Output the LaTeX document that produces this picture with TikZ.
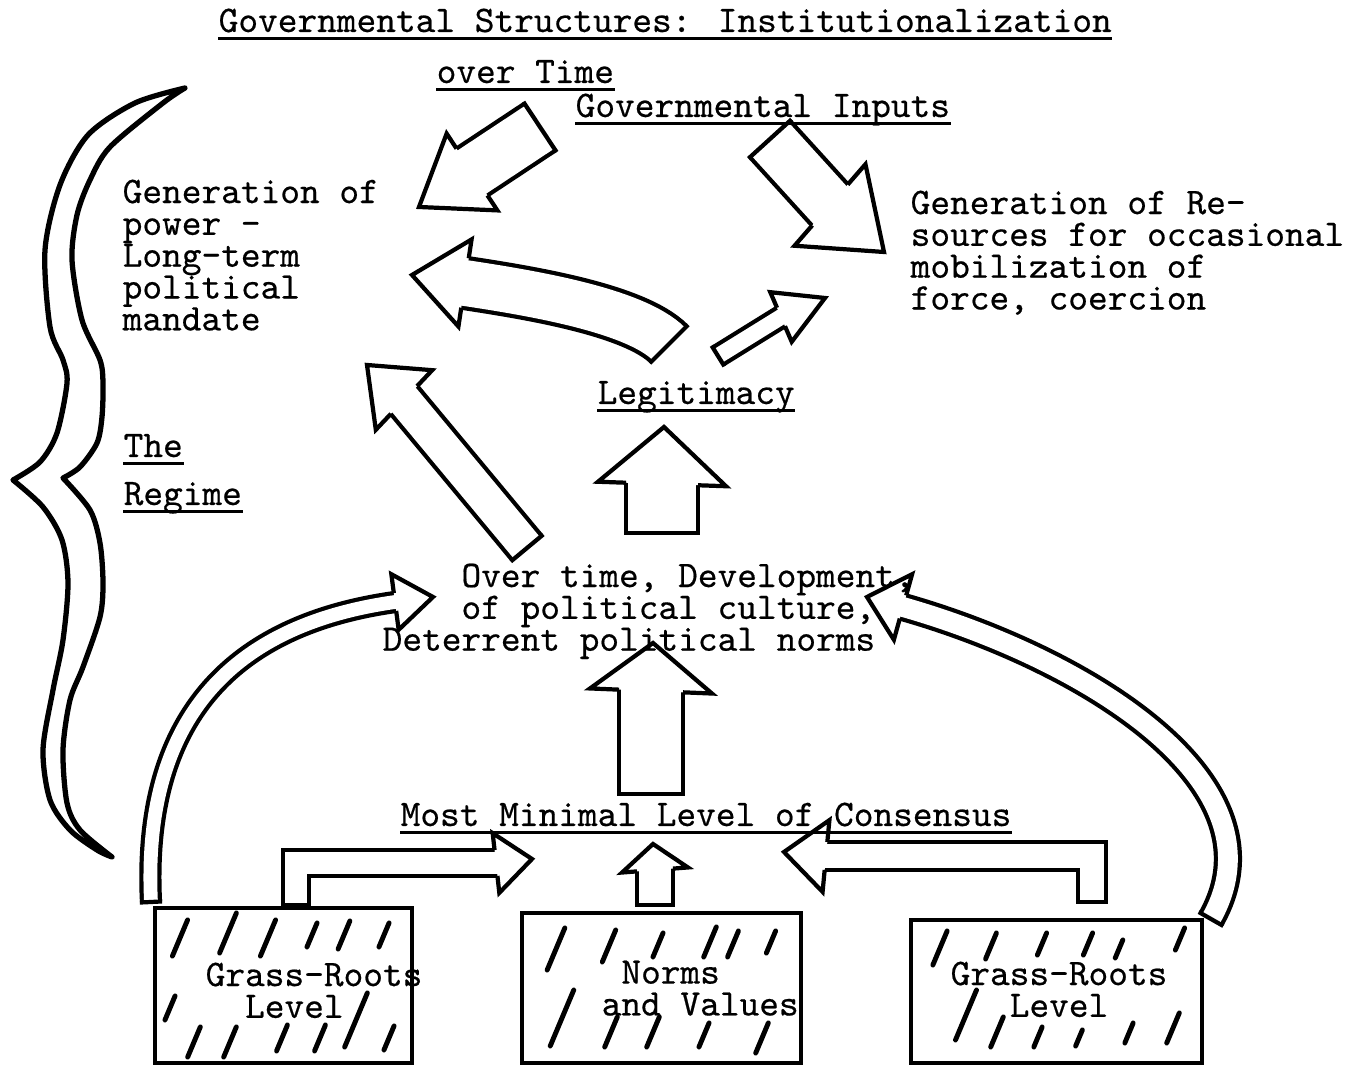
\documentclass[tikz,border=0pt]{standalone}
\usepackage{fontspec}
\newfontfamily\typew{lmmono10-regular.otf}[FakeBold=0.5]
\usetikzlibrary{calc}

% typewriter text with fixed line pitch
\newcommand{\typeface}{\typew\fontsize{10.67pt}{9.05pt}\selectfont\lineskiplimit -20pt\relax}

% hollow head: base, tip, shaft half width, head half width
\newcommand{\blockhead}[4]{%
  \fill[white] ($(#1)!#4!90:(#2)$) -- (#2) -- ($(#1)!#4!-90:(#2)$) -- cycle;
  \draw[rim] ($(#1)!#3!90:(#2)$) -- ($(#1)!#4!90:(#2)$) -- (#2)
     -- ($(#1)!#4!-90:(#2)$) -- ($(#1)!#3!-90:(#2)$);}
% closing stroke at the tail: tail, next point, shaft half width
\newcommand{\blocktail}[3]{%
  \draw[rim, line cap=rect] ($(#1)!#3!90:(#2)$) -- ($(#1)!#3!-90:(#2)$);}

\begin{document}
\begin{tikzpicture}[
   x=0.01cm, y=-0.01cm,
       txt/.style = {font={\typeface}, inner sep=0pt},
       rim/.style = {line width=1.2pt},
     shaft/.style = {rim, double=white, double distance=2*#1-1.2pt, shorten >=-0.05cm},
     uline/.style = {line width=0.8pt},
     slash/.style = {line width=1.4pt, line cap=round},
      hbox/.style = {rectangle, draw, line width=1.2pt, inner sep=0pt}
                    ]
\useasboundingbox (0,0) rectangle (1363,1068);

% arrow end points
\coordinate (a1) at (540,127);  \coordinate (a1h) at (472,172);  \coordinate (a1t) at (419,207);
\coordinate (a2) at (770,139);  \coordinate (a2h) at (830,205);  \coordinate (a2t) at (884,252);
\coordinate (a3) at (669,344);  \coordinate (a3c) at (634,309);
\coordinate (a3h) at (465,283); \coordinate (a3t) at (412,275);
\coordinate (a4) at (718,356);  \coordinate (a4h) at (781,317);  \coordinate (a4t) at (825,298);
\coordinate (a5) at (527,548);  \coordinate (a5h) at (404,400);  \coordinate (a5t) at (367,365);
\coordinate (a6) at (662,533);  \coordinate (a6h) at (662,484);  \coordinate (a6t) at (664,427);
\coordinate (a7) at (651,794);  \coordinate (a7h) at (651,691);  \coordinate (a7t) at (653,643);
\coordinate (a8) at (655,905);  \coordinate (a8h) at (655,870);  \coordinate (a8t) at (653,844);
\coordinate (a9) at (296,905);  \coordinate (a9k) at (296,863);
\coordinate (a9h) at (496,863); \coordinate (a9t) at (532,859);
\coordinate (a10) at (1092,902); \coordinate (a10k) at (1092,856);
\coordinate (a10h) at (826,856); \coordinate (a10t) at (784,852);
\coordinate (a11) at (151,902); \coordinate (a11c) at (140,680);
\coordinate (a11h) at (395,602); \coordinate (a11t) at (433,597);
\coordinate (a12) at (1211,919); \coordinate (a12c) at (1290,780);
\coordinate (a12h) at (903,607); \coordinate (a12t) at (867,597);

% shafts
\draw[shaft=0.28cm] (a1) -- (a1h);
\draw[shaft=0.27cm] (a2) -- (a2h);
\draw[shaft=0.25cm] (a3) .. controls (a3c) and ($(a3h)!0.6cm!180:(a3t)$) .. (a3h);
\draw[shaft=0.10cm] (a4) -- (a4h);
\draw[shaft=0.19cm] (a5) -- (a5h);
\draw[shaft=0.36cm] (a6) -- (a6h);
\draw[shaft=0.32cm] (a7) -- (a7h);
\draw[shaft=0.18cm] (a8) -- (a8h);
\draw[shaft=0.13cm] (a9) -- (a9k) -- (a9h);
\draw[shaft=0.14cm] (a10) -- (a10k) -- (a10h);
\draw[shaft=0.09cm] (a11) .. controls (a11c) and ($(a11h)!1.2cm!180:(a11t)$) .. (a11h);
\draw[shaft=0.12cm] (a12) .. controls (a12c) and ($(a12h)!1.8cm!180:(a12t)$) .. (a12h);

% tails and heads
\blocktail{a1}{a1h}{0.28cm}   \blockhead{a1h}{a1t}{0.28cm}{0.46cm}
\blocktail{a2}{a2h}{0.27cm}   \blockhead{a2h}{a2t}{0.27cm}{0.54cm}
\blocktail{a3}{a3c}{0.25cm}   \blockhead{a3h}{a3t}{0.25cm}{0.44cm}
\blocktail{a4}{a4h}{0.10cm}   \blockhead{a4h}{a4t}{0.10cm}{0.27cm}
\blocktail{a5}{a5h}{0.19cm}   \blockhead{a5h}{a5t}{0.19cm}{0.41cm}
\blocktail{a6}{a6h}{0.36cm}   \blockhead{a6h}{a6t}{0.36cm}{0.64cm}
\blocktail{a7}{a7h}{0.32cm}   \blockhead{a7h}{a7t}{0.32cm}{0.61cm}
\blocktail{a8}{a8h}{0.18cm}   \blockhead{a8h}{a8t}{0.18cm}{0.33cm}
\blocktail{a9}{a9k}{0.13cm}   \blockhead{a9h}{a9t}{0.13cm}{0.30cm}
\blocktail{a10}{a10k}{0.14cm} \blockhead{a10h}{a10t}{0.14cm}{0.36cm}
\blocktail{a11}{a11c}{0.09cm} \blockhead{a11h}{a11t}{0.09cm}{0.28cm}
\blocktail{a12}{a12c}{0.12cm} \blockhead{a12h}{a12t}{0.12cm}{0.34cm}

% the brace
\draw[rim, line width=1.5pt, line join=round]
  plot[smooth] coordinates {(185,88) (135,103) (88,135) (60,185) (45,250)
                            (50,327) (63,360) (67,383) (57,433) (40,462) (13,480)}
  -- plot[smooth] coordinates {(13,480) (43,507) (62,540) (68,583) (63,640) (53,690)
                            (43,750) (50,800) (70,830) (97,850) (112,857)}
  -- plot[smooth] coordinates {(112,857) (80,830) (67,803) (63,750) (70,700) (83,667)
                            (100,617) (103,583) (100,543) (90,510) (63,478)}
  -- plot[smooth] coordinates {(63,478) (80,467) (97,443) (102,417) (103,383) (100,360)
                            (82,320) (72,260) (77,215) (90,180) (110,147) (163,103) (185,88)}
  -- cycle;

% texts
\node (title) [txt, anchor=base west] at (218,32) {Governmental Structures: Institutionalization};
\node (overtime) [txt, anchor=base west] at (436,83) {over Time};
\node (inputs) [txt, anchor=base west] at (575,117) {Governmental Inputs};
\node (power) [txt, anchor=north west, align=left] at (122,179)
      {Generation of\\power -\\Long-term\\political\\mandate};
\node (resources) [txt, anchor=north west, align=left] at (910,190)
      {Generation of Re-\\sources for occasional\\mobilization of\\force, coercion};
\node (legit) [txt, anchor=base west] at (597,404) {Legitimacy};
\node (the) [txt, anchor=base west] at (123,457) {The};
\node (regime) [txt, anchor=base west] at (123,505) {Regime};
\node (culture) [txt, anchor=north west, align=left] at (382,563)
      {\hphantom{xxxx}Over time, Development,\\\hphantom{xxxx}of political culture,\\Deterrent political norms};
\node (consensus) [txt, anchor=base west] at (400,826) {Most Minimal Level of Consensus};

\foreach \n in {title, overtime, inputs, legit, the, regime, consensus}
  \draw[uline] ([yshift=-0.065cm]\n.base west) -- ([yshift=-0.065cm]\n.base east);

% the three boxes
\node (gr1) [hbox, minimum width=2.57cm, minimum height=1.55cm] at (283.5,985.5) {};
\node (gr1txt) [txt, anchor=north west, align=left] at (205,962) {Grass-Roots\\\hphantom{xx}Level};
\node (nv) [hbox, minimum width=2.79cm, minimum height=1.50cm] at (661.5,988) {};
\node (nvtxt) [txt, anchor=north west, align=left] at (601,960) {\hphantom{x}Norms\\and Values};
\node (gr3) [hbox, minimum width=2.91cm, minimum height=1.43cm] at (1056.5,991.5) {};
\node (gr3txt) [txt, anchor=north, align=center] at (1059,961) {Grass-Roots\\Level};

% hatching
\foreach \x/\y/\l in {180/938/18, 228/933/20, 268/938/18, 312/935/12, 344/935/14, 384/935/12,
                      170/1008/12, 194/1042/15, 230/1042/15, 282/1038/13, 320/1038/13,
                      356/1020/27, 389/1038/12,
                      556/949/21, 609/946/16, 658/945/12, 710/942/15, 733/944/13, 771/942/11,
                      562/1018/28, 611/1032/15, 653/1032/15, 704/1035/12, 762/1038/15,
                      940/948/17, 991/946/13, 1042/944/11, 1088/944/11, 1119/949/9, 1180/939/11,
                      966/1015/25, 997/1032/15, 1038/1037/10, 1079/1038/8, 1129/1033/10,
                      1173/1028/15}
  \draw[slash] (\x-0.42*\l,\y+\l) -- (\x+0.42*\l,\y-\l);
\end{tikzpicture}
\end{document}
